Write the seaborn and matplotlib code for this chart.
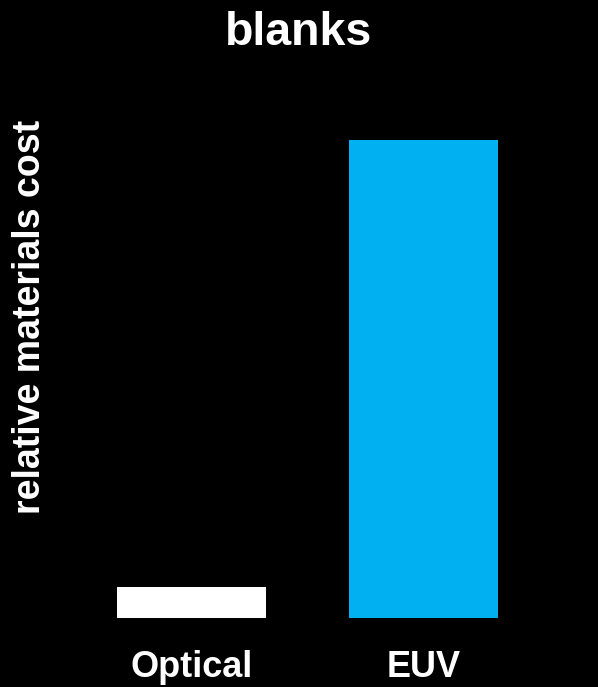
import matplotlib
matplotlib.use("Agg")
import matplotlib.pyplot as plt
import seaborn as sns
import pandas as pd

categories = ["Optical", "EUV"]
values = [1.0, 15.4]
colors = ["#FFFFFF", "#00B0F0"]

sns.set_theme(style="white")
plt.rcParams['font.family'] = ['Liberation Sans', 'DejaVu Sans']

W, H = 598, 687
fig = plt.figure(figsize=(W / 100, H / 100), dpi=100, facecolor="black")
ax = fig.add_axes([75.5 / W, (H - 618) / H, 464 / W, 478 / H])
ax.set_facecolor("black")

df = pd.DataFrame({"cat": categories, "val": values})
sns.barplot(data=df, x="cat", y="val", hue="cat", palette=colors, legend=False,
            width=0.642, ax=ax, saturation=1, edgecolor="none")

ax.set_xlim(-0.5, 1.5)
ax.set_ylim(0, 15.4)
ax.set_yticks([])
for s in ax.spines.values():
    s.set_visible(False)
ax.set_xlabel("")
ax.set_ylabel("")
ax.tick_params(axis="x", length=0, pad=23, labelsize=26, colors="white")
for lbl in ax.get_xticklabels():
    lbl.set_fontweight("bold")

fig.text(299 / W, 1 - 45 / H, "blanks", ha="center", va="baseline",
         fontsize=33.5, fontweight="bold", color="white")
fig.text(30 / W, 1 - 317 / H, "relative materials cost", ha="center", va="center",
         rotation=90, fontsize=27, fontweight="bold", color="white")

fig.savefig("out.png", dpi=100, facecolor="black")
